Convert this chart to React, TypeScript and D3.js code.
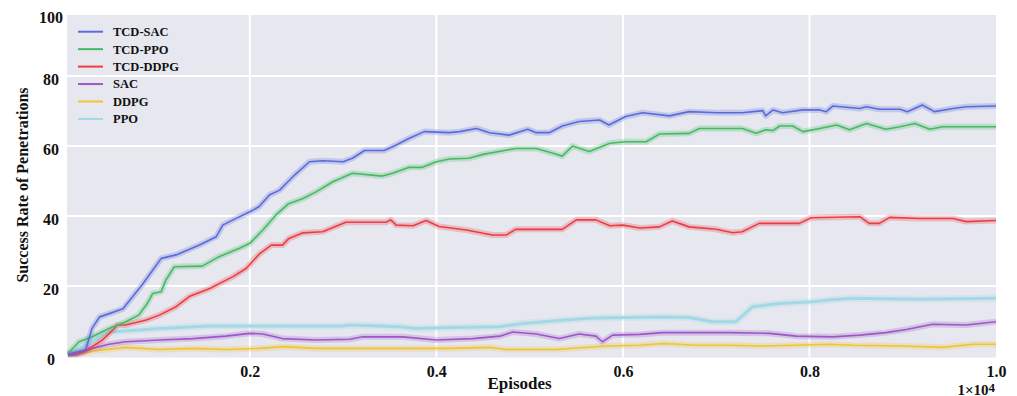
import React, { useRef, useEffect } from "react";
import * as d3 from "d3";

// episodes are in units of 1e4
const tcdSac = [
    [0.005, 0.5], [0.024, 1.8], [0.031, 8], [0.039, 11.2], [0.05, 12.2], [0.064, 13.5], [0.085, 20.5],
    [0.105, 27.9], [0.121, 28.9], [0.146, 31.7], [0.164, 34.1], [0.171, 37.4], [0.182, 38.9], [0.2, 41.2],
    [0.21, 42.7], [0.221, 46], [0.232, 47.4], [0.239, 49.3], [0.248, 51.7], [0.264, 55.5], [0.278, 55.8],
    [0.3, 55.5], [0.31, 56.5], [0.323, 58.7], [0.344, 58.7], [0.357, 60.3], [0.371, 62.2], [0.387, 64.1],
    [0.414, 63.8], [0.425, 64.1], [0.443, 65], [0.457, 63.8], [0.478, 63.1], [0.498, 64.8], [0.507, 63.8],
    [0.521, 63.8], [0.535, 65.7], [0.553, 67], [0.575, 67.4], [0.585, 66], [0.603, 68.4], [0.621, 69.5],
    [0.65, 68.6], [0.671, 69.8], [0.7, 69.5], [0.728, 69.5], [0.75, 70.1], [0.753, 68.6], [0.761, 70.3],
    [0.771, 69.5], [0.793, 70.3], [0.811, 70.3], [0.818, 69.8], [0.825, 71.4], [0.854, 70.7], [0.861, 71.2],
    [0.875, 70.5], [0.897, 70.5], [0.905, 69.8], [0.921, 71.7], [0.934, 69.8], [0.954, 70.7], [0.968, 71.2],
    [1.0, 71.4]
];

const tcdPpo = [
    [0.005, 0.8], [0.017, 4.1], [0.031, 5.5], [0.049, 7.9], [0.067, 9.8], [0.081, 11.7], [0.09, 15],
    [0.096, 17.9], [0.105, 18.4], [0.11, 21.7], [0.119, 25.5], [0.149, 25.7], [0.167, 28.4], [0.189, 30.8],
    [0.2, 32.2], [0.214, 36], [0.228, 40.3], [0.241, 43.4], [0.257, 45], [0.271, 46.9], [0.289, 49.8],
    [0.31, 52.2], [0.342, 51.4], [0.353, 52.2], [0.371, 53.9], [0.385, 53.9], [0.4, 55.5], [0.414, 56.3],
    [0.435, 56.5], [0.45, 57.6], [0.485, 59.3], [0.507, 59.3], [0.525, 57.9], [0.535, 57.1], [0.546, 60],
    [0.564, 58.4], [0.586, 60.8], [0.603, 61.2], [0.625, 61.2], [0.639, 63.4], [0.671, 63.6], [0.682, 65],
    [0.728, 65], [0.743, 63.6], [0.753, 64.6], [0.761, 64.4], [0.768, 65.7], [0.782, 65.7], [0.793, 64.1],
    [0.811, 65], [0.829, 66], [0.843, 64.6], [0.861, 66.4], [0.882, 64.8], [0.897, 65.5], [0.913, 66.4],
    [0.929, 64.8], [0.943, 65.5], [1.0, 65.5]
];

const tcdDdpg = [
    [0.005, 0.3], [0.021, 1.2], [0.031, 2.7], [0.042, 4.6], [0.053, 7.4], [0.058, 8.9], [0.067, 8.9],
    [0.089, 10.3], [0.103, 11.7], [0.121, 14.1], [0.135, 17], [0.157, 19.3], [0.182, 22.7], [0.196, 25],
    [0.21, 29.1], [0.223, 31.7], [0.235, 31.7], [0.242, 33.6], [0.257, 35.2], [0.278, 35.5], [0.303, 38.2],
    [0.346, 38.2], [0.351, 38.9], [0.357, 37.4], [0.375, 37.2], [0.389, 38.7], [0.403, 37], [0.432, 36],
    [0.46, 34.6], [0.475, 34.6], [0.485, 36.2], [0.535, 36.2], [0.55, 38.9], [0.571, 38.9], [0.586, 37.2],
    [0.6, 37.4], [0.618, 36.6], [0.639, 36.9], [0.653, 38.6], [0.671, 36.9], [0.7, 36.2], [0.718, 35.2],
    [0.728, 35.5], [0.746, 37.9], [0.789, 37.9], [0.802, 39.5], [0.854, 39.8], [0.864, 37.9], [0.875, 37.9],
    [0.886, 39.6], [0.918, 39.3], [0.954, 39.3], [0.968, 38.4], [1.0, 38.7]
];

const sac = [
    [0.005, 0.2], [0.014, 0.3], [0.031, 2.2], [0.049, 3.4], [0.067, 4.1], [0.103, 4.6], [0.139, 5],
    [0.174, 5.7], [0.2, 6.5], [0.214, 6.3], [0.235, 5], [0.271, 4.6], [0.307, 4.8], [0.321, 5.5],
    [0.364, 5.5], [0.4, 4.6], [0.439, 5], [0.468, 5.7], [0.482, 6.9], [0.507, 6.3], [0.532, 5],
    [0.553, 6.3], [0.571, 5.7], [0.578, 4.1], [0.589, 6], [0.618, 6.2], [0.643, 6.7], [0.714, 6.7],
    [0.757, 6.5], [0.786, 5.7], [0.825, 5.5], [0.854, 6], [0.882, 6.7], [0.904, 7.6], [0.932, 9.1],
    [0.968, 8.9], [1.0, 9.8]
];

const ddpg = [
    [0.01, 0.3], [0.039, 1.7], [0.067, 2.5], [0.103, 1.9], [0.139, 2.2], [0.174, 1.9], [0.21, 2.2],
    [0.235, 2.7], [0.271, 2.2], [0.342, 2.2], [0.414, 2.2], [0.457, 2.5], [0.475, 1.9], [0.528, 1.9],
    [0.582, 2.9], [0.618, 3.1], [0.643, 3.6], [0.678, 3.1], [0.714, 3.1], [0.75, 2.9], [0.786, 3.1],
    [0.821, 3.4], [0.846, 3.1], [0.9, 2.9], [0.943, 2.5], [0.975, 3.4], [1.0, 3.4]
];

const ppo = [
    [0.005, 0.5], [0.03, 4], [0.05, 6.9], [0.103, 7.9], [0.157, 8.6], [0.21, 8.6], [0.3, 8.6],
    [0.307, 8.9], [0.36, 8.4], [0.378, 7.9], [0.414, 8.2], [0.468, 8.4], [0.493, 9.3], [0.528, 10.1],
    [0.564, 10.8], [0.618, 11.1], [0.643, 11.2], [0.671, 11], [0.696, 9.8], [0.721, 9.8], [0.739, 14.1],
    [0.768, 15], [0.804, 15.5], [0.821, 16], [0.846, 16.5], [0.918, 16.2], [1.0, 16.5]
];

const seriesNames = ["TCD-SAC", "TCD-PPO", "TCD-DDPG", "SAC", "DDPG", "PPO"];
const seriesData = [tcdSac, tcdPpo, tcdDdpg, sac, ddpg, ppo];
const seriesColours = ["#5a6bdc", "#45ba62", "#ee3d42", "#9e57c9", "#f2c431", "#a3d9e5"];

const xTicks = [0.2, 0.4, 0.6, 0.8, 1.0];
const yTicks = [0, 20, 40, 60, 80];

const App = () => {
    const svgRef = useRef<SVGSVGElement>(null);

    useEffect(() => {
        if (!svgRef.current) return;

        const W = 1017;
        const H = 396;
        const margin = { top: 15, right: 21, bottom: 38.5, left: 67 };
        const width = W - margin.left - margin.right;
        const height = H - margin.top - margin.bottom;
        const font = "'Liberation Serif', 'Times New Roman', serif";

        const root = d3.select(svgRef.current);
        root.selectAll("*").remove();
        root.attr("width", W).attr("height", H);

        const svg = root.append("g").attr("transform", `translate(${margin.left},${margin.top})`);

        const x = d3.scaleLinear().domain([0.004, 1.0]).range([0, width]);
        const y = d3.scaleLinear().domain([-0.4, 97.4]).range([height, 0]);

        svg.append("rect")
            .attr("width", width)
            .attr("height", height)
            .attr("fill", "#e6e7ef");

        svg.selectAll(".vgrid")
            .data(xTicks.filter(d => d < 1))
            .enter().append("line")
            .attr("x1", d => x(d)).attr("x2", d => x(d))
            .attr("y1", 0).attr("y2", height)
            .attr("stroke", "white").attr("stroke-width", 2);

        svg.selectAll(".hgrid")
            .data(yTicks.filter(d => d > 0))
            .enter().append("line")
            .attr("x1", 0).attr("x2", width)
            .attr("y1", d => y(d)).attr("y2", d => y(d))
            .attr("stroke", "white").attr("stroke-width", 2);

        svg.append("clipPath").attr("id", "plot-clip")
            .append("rect").attr("width", width).attr("height", height);

        const line = d3.line<number[]>()
            .x(d => x(d[0]))
            .y(d => y(d[1]));

        const lines = svg.append("g").attr("clip-path", "url(#plot-clip)");

        // draw back to front so TCD-SAC sits on top
        for (let i = seriesData.length - 1; i >= 0; i--) {
            const isPpo = seriesNames[i] === "PPO";
            lines.append("path")
                .datum(seriesData[i])
                .attr("fill", "none")
                .attr("stroke", seriesColours[i])
                .attr("stroke-opacity", 0.25)
                .attr("stroke-width", isPpo ? 7 : 6)
                .attr("stroke-linejoin", "round")
                .attr("d", line);
            lines.append("path")
                .datum(seriesData[i])
                .attr("fill", "none")
                .attr("stroke", seriesColours[i])
                .attr("stroke-width", isPpo ? 3 : 1.6)
                .attr("stroke-linejoin", "round")
                .attr("d", line);
        }

        const xAxis = svg.append("g")
            .attr("transform", `translate(0,${height})`)
            .call(d3.axisBottom(x).tickValues(xTicks).tickSize(0).tickPadding(8).tickFormat(d3.format(".1f")));
        xAxis.select(".domain").remove();
        xAxis.selectAll("text")
            .style("font-family", font)
            .style("font-weight", "bold")
            .style("font-size", "16px")
            .style("fill", "#111");

        const yAxis = svg.append("g")
            .call(d3.axisLeft(y).tickValues(yTicks).tickSize(0).tickFormat(d3.format("d")));
        yAxis.select(".domain").remove();
        yAxis.selectAll("text")
            .attr("x", -16)
            .attr("dy", "0.52em")
            .attr("text-anchor", "middle")
            .style("font-family", font)
            .style("font-weight", "bold")
            .style("font-size", "16px")
            .style("fill", "#111");

        // top label sits on the upper plot edge
        svg.append("text")
            .attr("x", -16)
            .attr("y", 0)
            .attr("dy", "0.52em")
            .attr("text-anchor", "middle")
            .style("font-family", font)
            .style("font-weight", "bold")
            .style("font-size", "16px")
            .style("fill", "#111")
            .text("100");

        svg.append("text")
            .attr("x", width / 2 - 12)
            .attr("y", height + 31)
            .attr("text-anchor", "middle")
            .style("font-family", font)
            .style("font-weight", "bold")
            .style("font-size", "17px")
            .style("fill", "#111")
            .text("Episodes");

        const exp = svg.append("text")
            .attr("x", width - 1)
            .attr("y", height + 37)
            .attr("text-anchor", "end")
            .style("font-family", font)
            .style("font-weight", "bold")
            .style("font-size", "15px")
            .style("fill", "#111");
        exp.append("tspan").text("1×10");
        exp.append("tspan").attr("dy", -3).style("font-size", "13px").text("4");

        svg.append("text")
            .attr("transform", `translate(${22 - margin.left},${185 - margin.top}) rotate(-90)`)
            .attr("text-anchor", "middle")
            .attr("dy", "0.35em")
            .style("font-family", font)
            .style("font-weight", "bold")
            .style("font-size", "16px")
            .style("fill", "#111")
            .text("Success Rate of Penetrations");

        const legend = svg.selectAll(".legend")
            .data(seriesNames)
            .enter().append("g")
            .attr("class", "legend")
            .attr("transform", (d, i) => `translate(11,${16.7 + i * 17.45})`);

        legend.append("line")
            .attr("x1", 0).attr("x2", 25)
            .attr("stroke", (d, i) => seriesColours[i])
            .attr("stroke-width", 2);

        legend.append("text")
            .attr("x", 35)
            .attr("dy", "0.35em")
            .style("font-family", font)
            .style("font-weight", "bold")
            .style("font-size", "12.5px")
            .style("fill", "#111")
            .text(d => d);
    }, []);

    return (
        <div style={{ position: "absolute", left: 0, top: 0, background: "white" }}>
            <svg ref={svgRef} style={{ display: "block" }}></svg>
        </div>
    );
};

export default App;
